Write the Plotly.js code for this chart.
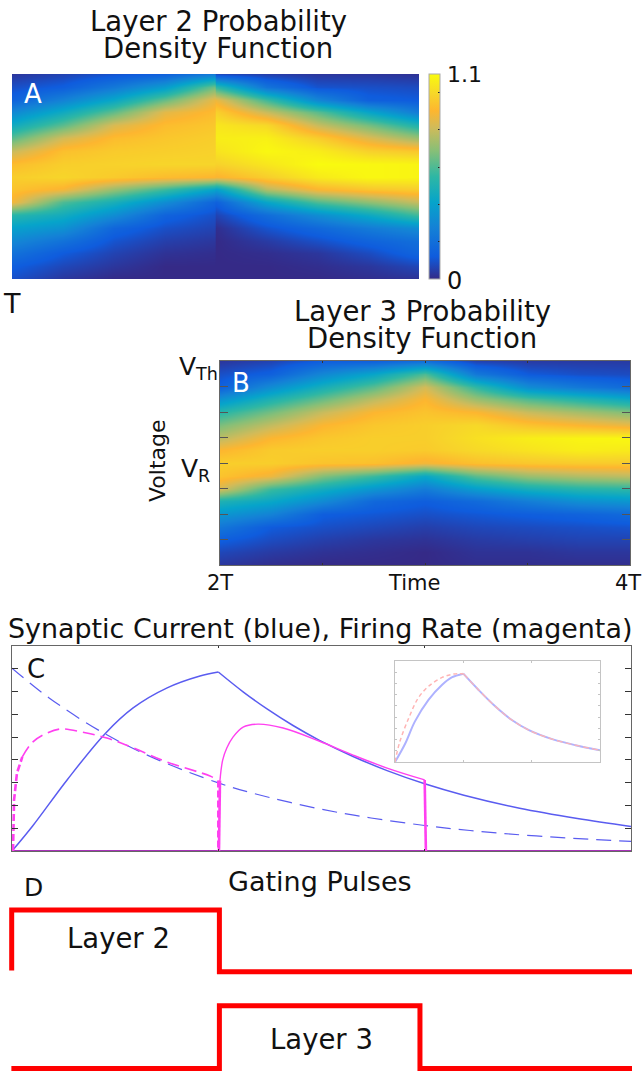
<!DOCTYPE html>
<html><head><meta charset="utf-8">
<script src="https://cdn.plot.ly/plotly-3.0.1.min.js"></script>
<style>html,body{margin:0;padding:0;background:#fff;overflow:hidden}</style>
</head><body><div id="chart" style="width:642px;height:1072px"></div>
<script>
// Voltage rows (top to bottom) shared by both density panels
const voltageRows = [8,7.5,7,6.5,6,5.5,5,4.5,4,3.5,3,2.5,2,1.5,1,0.5,0];

// Panel A, before the gate switch
const timesA1 = [1,1.125,1.25,1.375,1.5];
const a1000 = [.03,.09,.15,.30,.45,.62,.80,.92,.97,.94,.88,.53,.40,.30,.21,.13,.09];
const a1125 = [.06,.13,.28,.45,.62,.82,.93,.97,.99,.89,.60,.46,.34,.21,.12,.07,.03];
const a1250 = [.10,.24,.43,.63,.83,.92,.96,.98,.96,.72,.48,.32,.16,.10,.06,.03,0];
const a1375 = [.14,.38,.64,.85,.92,.95,.97,.99,.92,.58,.32,.15,.09,.05,.02,0,0];
const a1500 = [.26,.66,.87,.92,.95,.97,.98,.99,.90,.42,.15,.09,.06,.03,.01,0,0];
const columnsA1 = [a1000,a1125,a1250,a1375,a1500];
// Panel A, after the gate switch
const timesA2 = [1.5,1.625,1.75,1.875,2];
const a1501 = [.08,.55,.87,.98,1.04,1.06,1.03,.98,.89,.40,.14,.06,.01,0,0,0,0];
const a1625 = [.05,.22,.58,.80,1.00,1.07,1.09,1.04,.97,.77,.42,.19,.10,.04,.01,0,0];
const a1750 = [.03,.10,.30,.62,.80,.97,1.06,1.10,1.05,.90,.60,.32,.17,.09,.03,.01,0];
const a1875 = [.03,.09,.14,.42,.66,.84,.98,1.09,1.09,.95,.70,.44,.25,.15,.08,.03,.01];
const a2000 = [.02,.08,.12,.25,.50,.72,.95,1.08,1.08,.97,.80,.58,.32,.20,.16,.07,.02];
const columnsA2 = [a1501,a1625,a1750,a1875,a2000];

// Panel B: density per time column
const timesB = [2,2.25,2.5,2.75,3,3.25,3.5,3.75,4];
const b200 = [.03,.09,.14,.34,.53,.67,.78,.90,.97,.94,.82,.50,.36,.23,.13,.07,.03];
const b225 = [.06,.14,.32,.50,.66,.79,.90,.96,.97,.87,.57,.43,.28,.12,.08,.04,.01];
const b250 = [.13,.30,.48,.64,.80,.90,.95,.97,.94,.68,.46,.31,.13,.09,.05,.02,0];
const b275 = [.14,.42,.62,.78,.90,.95,.97,.97,.93,.57,.35,.17,.11,.07,.03,.01,0];
const b300 = [.20,.60,.82,.90,.94,.97,.97,.96,.88,.43,.25,.13,.09,.05,.02,0,0];
const b325 = [.06,.24,.55,.72,.90,1.00,1.02,1.00,.93,.62,.38,.18,.11,.07,.04,.02,.01];
const b350 = [.04,.12,.32,.60,.80,.94,1.06,1.03,.95,.72,.47,.26,.13,.08,.05,.02,.01];
const b375 = [.04,.09,.24,.52,.74,.90,1.08,1.06,.96,.76,.52,.33,.15,.09,.06,.03,.01];
const b400 = [.04,.08,.18,.44,.68,.86,1.09,1.05,.96,.78,.54,.36,.18,.10,.06,.03,.01];
const columnsB = [b200,b225,b250,b275,b300,b325,b350,b375,b400];

// Panel C: layer 2 dashed, layer 3 solid
const currentRiseT = [0,.10,.267,.45,.587,.752,.911,1];
const currentRiseV = [0,1.1,3.12,5.14,6.28,7.16,7.68,7.86];
const currentDecayT = [1,1.12,1.236,1.362,1.488,1.653,1.818,2,2.19,2.46,2.74,3];
const currentDecayV = [7.86,6.99,6.24,5.51,4.87,4.15,3.53,2.95,2.45,1.88,1.43,1.08];
const dashedCurrentT = [0,.18,.43,.68,1,1.17,1.48,1.74,2,2.22,2.54,3];
const dashedCurrentV = [8.03,6.72,5.25,4.11,2.99,2.53,1.87,1.45,1.12,.9,.66,.42];
const dashedRateT = [.05,.10,.17,.24,.34,.46,.59,.75,.96,1];
const dashedRateV = [4.13,4.78,5.18,5.36,5.22,4.96,4.52,3.91,3.29,3.1];
const dashedOnsetT = [.005,.01,.024,.05];
const dashedOnsetV = [0,2.24,3.42,4.13];
const dashedDropT = [1.001,1.001];
const dashedDropV = [3.1,0];
const solidRiseT = [1.003,1.005,1.008];
const solidRiseV = [0,2.0,3.1];
const solidRateT = [1.008,1.021,1.041,1.071,1.12,1.192,1.314,1.488,1.653,1.818,2];
const solidRateV = [3.1,3.99,4.52,5.0,5.44,5.57,5.4,4.83,4.21,3.64,3.12];
const solidFallT = [2,2.002,2.006];
const solidFallV = [3.12,1.5,0];
const baselineT = [0,3];
const baselineV = [0,0];

// Inset of panel C
const insetBlueRiseT = [0,.15,.29,.49,.69,.83,1];
const insetBlueRiseV = [0,1.65,3.6,5.54,6.89,7.54,7.87];
const insetRedRiseT = [0,.07,.2,.34,.49,.69,.86,1];
const insetRedRiseV = [0,1.8,3.9,5.7,6.74,7.54,7.84,7.87];
const insetDecayT = [1,1.22,1.47,1.71,1.96,2.3,2.64,3];
const insetDecayV = [7.87,6.44,4.94,3.74,2.84,2.04,1.5,1.05];

// Panel D: gating pulses
const layer2T = [-0.0015,-0.0015,1.0035,1.0035,3];
const layer2V = [1.56,2.526,2.526,1.541,1.541];
const layer3T = [-0.003,1.0035,1.0035,1.974,1.974,3];
const layer3V = [0,0,1,1,0,0];

const parula = [[0,'#352a87'],[.11,'#0f5cdd'],[.25,'#1481d6'],[.375,'#06a4ca'],[.5,'#2eb7a4'],
  [.625,'#87bf77'],[.74,'#d1bb59'],[.82,'#fdb62f'],[.9,'#f7d52a'],[1,'#f9fb0e']];
const colourTicks = [.2,.4,.6,.8,1];

const W = 642, H = 1072;
const dx = (a,b)=>[a/W,b/W];
const dy = (top,bot)=>[1-bot/H,1-top/H];
const rows = cols => voltageRows.map((_,r)=>cols.map(c=>c[r]));
const FONT = '"DejaVu Sans",sans-serif';
const INK = '#111';
const BLUE = '#5a5cf0', MAG = '#ff40f0';
const SMOOTH = {shape:'spline',smoothing:1};

const line = (x,y,xa,ya,color,width,extra)=>({type:'scatter',mode:'lines',x,y,xaxis:xa,yaxis:ya,
  hoverinfo:'skip',showlegend:false,line:Object.assign({color,width},extra||{})});
const density = (x,cols,xa,ya,scale)=>({type:'heatmap',x,y:voltageRows,z:rows(cols),xaxis:xa,yaxis:ya,zmin:0,zmax:1.1,
  zsmooth:'best',colorscale:parula,showscale:scale,hoverinfo:'skip'});

const heatA = density(timesA1,columnsA1,'x6','y6',true);
heatA.colorbar = {x:428.5/W,xanchor:'left',y:1-74/H,yanchor:'top',len:205/H,lenmode:'fraction',thickness:10.5,thicknessmode:'pixels',
  xpad:0,ypad:0,outlinewidth:1,outlinecolor:'#aaa',tickmode:'array',tickvals:colourTicks,showticklabels:false,
  ticks:'inside',ticklen:2,tickcolor:'#222'};

const traces = [
 heatA,
 density(timesA2,columnsA2,'x7','y7',false),
 density(timesB,columnsB,'x2','y2',false),
 line(baselineT,baselineV,'x3','y3','#a832b8',2),
 line(currentRiseT,currentRiseV,'x3','y3',BLUE,1.5,SMOOTH),
 line(currentDecayT,currentDecayV,'x3','y3',BLUE,1.5,SMOOTH),
 line(dashedCurrentT,dashedCurrentV,'x3','y3',BLUE,1.2,{shape:'spline',smoothing:1,dash:'15px,8px'}),
 line(dashedOnsetT,dashedOnsetV,'x3','y3',MAG,2.6,{dash:'7px,3px'}),
 line(dashedRateT,dashedRateV,'x3','y3',MAG,1.6,{shape:'spline',smoothing:1,dash:'12px,6px'}),
 line(dashedDropT,dashedDropV,'x3','y3',MAG,3,{dash:'7px,3px'}),
 line(solidRiseT,solidRiseV,'x3','y3',MAG,2.6),
 line(solidRateT,solidRateV,'x3','y3',MAG,1.4,SMOOTH),
 line(solidFallT,solidFallV,'x3','y3',MAG,2.6),
 line(insetBlueRiseT,insetBlueRiseV,'x4','y4','#aeb2ff',2,SMOOTH),
 line(insetDecayT,insetDecayV,'x4','y4','#aeb2ff',2,SMOOTH),
 line(insetRedRiseT,insetRedRiseV,'x4','y4','#ffb4b4',1.5,{shape:'spline',smoothing:1,dash:'4px,3px'}),
 line(insetDecayT,insetDecayV,'x4','y4','#ffb4b4',1.2,{shape:'spline',smoothing:1,dash:'6px,3px'}),
 line(layer2T,layer2V,'x5','y5','#ff0000',5),
 line(layer3T,layer3V,'x5','y5','#ff0000',5)
];

const frame = {showline:true,linecolor:'#666',linewidth:1,mirror:'ticks',ticks:'inside',ticklen:2,tickcolor:'#333',
  showgrid:false,zeroline:false,tickmode:'array',showticklabels:false};
const voltTicks = [1,2,3,4,5,6,7];
const volt = Object.assign({},frame,{range:[0,8],tickvals:voltTicks,ticklen:8,tickcolor:'#555'});
const hidden = {visible:false,showgrid:false,zeroline:false};
const GREY = {linecolor:'#c4c4c4',tickcolor:'#c4c4c4',ticklen:2};

const note = (text,px,py,size,extra)=>Object.assign({text,x:px/W,y:1-py/H,xref:'paper',yref:'paper',showarrow:false,
  xanchor:'center',yanchor:'middle',font:{family:FONT,size,color:INK}},extra||{});

const layout = {
 width:W,height:H,margin:{l:0,r:0,t:0,b:0},paper_bgcolor:'#fff',plot_bgcolor:'rgba(0,0,0,0)',showlegend:false,
 font:{family:FONT,color:INK},
 // panel A data axes: one per side of the switch
 xaxis6:Object.assign({},hidden,{domain:dx(12,216),anchor:'y6',range:[1,1.5012]}),
 yaxis6:Object.assign({},hidden,{domain:dy(74,279),anchor:'x6',range:[0,8]}),
 xaxis7:Object.assign({},hidden,{domain:dx(215.5,419),anchor:'y7',range:[1.5,2]}),
 yaxis7:Object.assign({},hidden,{domain:dy(74,279),anchor:'x7',range:[0,8]}),
 xaxis:Object.assign({},frame,{domain:dx(12,419),anchor:'y',range:[1,2],tickvals:[1.25,1.5,1.75]}),
 yaxis:Object.assign({},volt,{domain:dy(74,279),anchor:'x'}),
 xaxis2:Object.assign({},frame,{domain:dx(220,630),anchor:'y2',range:[2,4],tickvals:[2.5,3,3.5]}),
 yaxis2:Object.assign({},volt,{domain:dy(361,565),anchor:'x2'}),
 xaxis3:Object.assign({},frame,{domain:dx(12,631),anchor:'y3',range:[0,3],tickvals:[1,2]}),
 yaxis3:Object.assign({},frame,{domain:dy(646,851),anchor:'x3',range:[0,9],tickvals:[1,2,3,4,5,6,7,8],ticklen:6}),
 xaxis4:Object.assign({},frame,GREY,{domain:dx(395,600),anchor:'y4',range:[0,3],tickvals:[1,2]}),
 yaxis4:Object.assign({},frame,GREY,{domain:dy(661,762),anchor:'x4',range:[0,9],tickvals:[1,2,3,4,5,6,7,8]}),
 xaxis5:Object.assign({},hidden,{domain:dx(4,632),anchor:'y5',range:[-0.0387,3]}),
 yaxis5:Object.assign({},hidden,{domain:dy(880,1072),anchor:'x5',range:[-0.057,3.005]}),
 annotations:[
  note('Layer 2 Probability',218,21,27.5),
  note('Density Function',218,48,27.5),
  note('A',33,94,26,{font:{family:FONT,size:26,color:'#fff'}}),
  note('1.1',464,74,22),
  note('0',454,281,24),
  note('T',12,303,27),
  note('Layer 3 Probability',422,311,27.5),
  note('Density Function',422,338,27.5),
  note('B',241,383,26,{font:{family:FONT,size:26,color:'#fff'}}),
  note('V<sub>Th</sub>',198,368,25),
  note('V<sub>R</sub>',195,470,25),
  note('Voltage',157,461,22,{textangle:-90}),
  note('2T',220,583,21),
  note('Time',414,583,21),
  note('4T',628,583,21),
  note('Synaptic Current (blue), Firing Rate (magenta)',320,628,26.9),
  note('C',36,669,26),
  note('D',33,887,25),
  note('Gating Pulses',320,881,27),
  note('Layer 2',118,938,27.5),
  note('Layer 3',322,1039,27.5)
 ]
};
Plotly.newPlot('chart',traces,layout,{staticPlot:true,displayModeBar:false});
</script></body></html>
